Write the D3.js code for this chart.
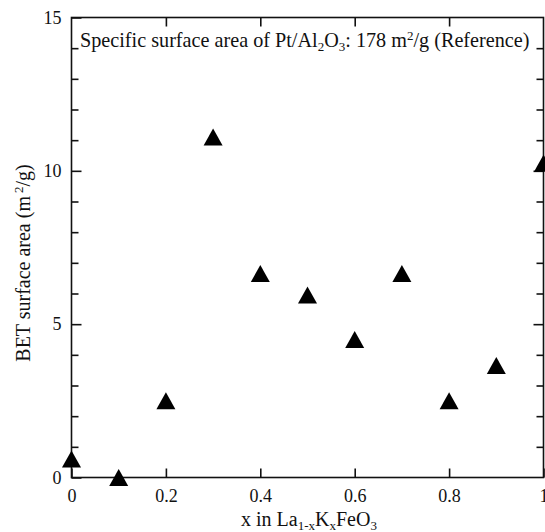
<!DOCTYPE html>
<html>
<head>
<meta charset="utf-8">
<script src="https://cdn.jsdelivr.net/npm/d3@7"></script>
<style>
  html, body { margin: 0; padding: 0; background: #fff; }
  svg { display: block; }
  text { font-family: "Liberation Serif", "Times New Roman", serif; fill: #111; }
</style>
</head>
<body>
<svg id="chart" width="545" height="532"></svg>
<script>
// K content x in La(1-x)KxFeO3
const potassiumFraction = [0, 0.1, 0.2, 0.3, 0.4, 0.5, 0.6, 0.7, 0.8, 0.9, 1.0];
// BET specific surface area, m2/g
const betArea = [0.6, 0.0, 2.5, 11.1, 6.65, 5.95, 4.5, 6.65, 2.5, 3.65, 10.25];

const xTicks = [0, 0.2, 0.4, 0.6, 0.8, 1];
const xTickLabels = ["0", "0.2", "0.4", "0.6", "0.8", "1"];
const yMajorTicks = [0, 5, 10, 15];
const yMinorTicks = [1, 2, 3, 4, 6, 7, 8, 9, 11, 12, 13, 14];

const svg = d3.select("#chart");
const plotLeft = 71.5, plotRight = 543.5, plotTop = 17.5, plotBottom = 477.5;

const x = d3.scaleLinear().domain([0, 1]).range([plotLeft, plotRight]);
const y = d3.scaleLinear().domain([0, 15]).range([plotBottom, plotTop]);

const axisColor = "#111";
const sw = 1.6;

// frame
svg.append("rect")
  .attr("x", plotLeft).attr("y", plotTop)
  .attr("width", plotRight - plotLeft).attr("height", plotBottom - plotTop)
  .attr("fill", "none").attr("stroke", axisColor).attr("stroke-width", sw);

function styleAxis(g) {
  g.select(".domain").remove();
  g.selectAll("line").attr("stroke", axisColor).attr("stroke-width", sw);
  g.selectAll("text").attr("font-size", 18).attr("font-family", "Liberation Serif").attr("fill", "#111");
}

// bottom axis: inward ticks + labels
const bottomAxis = d3.axisBottom(x).tickValues(xTicks)
  .tickFormat((d, i) => xTickLabels[i]).tickSizeInner(-9).tickSizeOuter(0).tickPadding(12);
svg.append("g").attr("transform", `translate(0,${plotBottom})`).call(bottomAxis).call(styleAxis);

// top axis: inward ticks, no labels
const topAxis = d3.axisTop(x).tickValues(xTicks.slice(1, -1)).tickFormat("").tickSizeInner(-9).tickSizeOuter(0);
svg.append("g").attr("transform", `translate(0,${plotTop})`).call(topAxis).call(styleAxis);

// left axis: major ticks with labels, minor ticks
const leftAxis = d3.axisLeft(y).tickValues(yMajorTicks).tickSizeInner(-10).tickSizeOuter(0).tickPadding(10).tickFormat(d3.format("d"));
svg.append("g").attr("transform", `translate(${plotLeft},0)`).call(leftAxis).call(styleAxis);

const leftMinor = d3.axisLeft(y).tickValues(yMinorTicks).tickFormat("").tickSizeInner(-7).tickSizeOuter(0);
svg.append("g").attr("transform", `translate(${plotLeft},0)`).call(leftMinor).call(styleAxis);

// right axis: inward ticks
const rightAxis = d3.axisRight(y).tickValues(yMajorTicks.slice(1, -1)).tickFormat("").tickSizeInner(-10).tickSizeOuter(0);
svg.append("g").attr("transform", `translate(${plotRight},0)`).call(rightAxis).call(styleAxis);

const rightMinor = d3.axisRight(y).tickValues(yMinorTicks).tickFormat("").tickSizeInner(-7).tickSizeOuter(0);
svg.append("g").attr("transform", `translate(${plotRight},0)`).call(rightMinor).call(styleAxis);

// filled triangle markers
const triW = 19, triH = 17;
const tri = d3.path();
tri.moveTo(0, -triH / 2);
tri.lineTo(triW / 2, triH / 2);
tri.lineTo(-triW / 2, triH / 2);
tri.closePath();

svg.append("g").selectAll("path")
  .data(potassiumFraction.map((k, i) => ({ k, v: betArea[i] })))
  .join("path")
  .attr("d", tri.toString())
  .attr("transform", d => `translate(${x(d.k)},${y(d.v)})`)
  .attr("fill", "#000");

// annotation
const note = svg.append("text").attr("x", 80).attr("y", 47).attr("font-size", 20.2);
note.append("tspan").text("Specific surface area of Pt/Al");
note.append("tspan").text("2").attr("font-size", 13).attr("dy", 4);
note.append("tspan").text("O").attr("dy", -4);
note.append("tspan").text("3").attr("font-size", 13).attr("dy", 4);
note.append("tspan").text(": 178 m").attr("dy", -4);
note.append("tspan").text("2").attr("font-size", 13).attr("dy", -7);
note.append("tspan").text("/g (Reference)").attr("dy", 7);

// x axis title
const xt = svg.append("text").attr("x", 309).attr("y", 526).attr("font-size", 20).attr("text-anchor", "middle");
xt.append("tspan").text("x in La");
xt.append("tspan").text("1-x").attr("font-size", 13).attr("dy", 4);
xt.append("tspan").text("K").attr("dy", -4);
xt.append("tspan").text("x").attr("font-size", 13).attr("dy", 4);
xt.append("tspan").text("FeO").attr("dy", -4);
xt.append("tspan").text("3").attr("font-size", 13).attr("dy", 4);

// y axis title
const yt = svg.append("text")
  .attr("transform", "translate(30,263) rotate(-90)")
  .attr("font-size", 20).attr("text-anchor", "middle");
yt.append("tspan").text("BET surface area (m");
yt.append("tspan").text("2").attr("font-size", 13).attr("dy", -7).attr("dx", 3);
yt.append("tspan").text("/g)").attr("dy", 7);
</script>
</body>
</html>
